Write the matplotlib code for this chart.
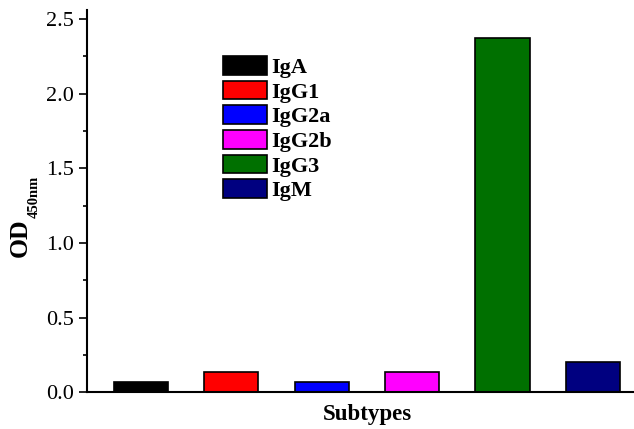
import matplotlib
matplotlib.use("Agg")
import matplotlib.pyplot as plt
from matplotlib.ticker import MultipleLocator, FormatStrFormatter

# subtype data
subtypes = ["IgA", "IgG1", "IgG2a", "IgG2b", "IgG3", "IgM"]
od450 = [0.067, 0.138, 0.067, 0.138, 2.375, 0.205]
colors = ["#000000", "#FF0000", "#0000FF", "#FF00FF", "#007000", "#000080"]

plt.rcParams['font.family'] = ['Liberation Serif', 'DejaVu Serif']

W, H = 634, 429
fig = plt.figure(figsize=(W / 100, H / 100), dpi=100)

# axes in pixel terms: left 86.7, bottom 392.3, top 9.5, right runs past the image edge
left, right, top, bottom = 86.7, 647.2, 9.5, 392.3
ax = fig.add_axes([left / W, 1 - bottom / H, (right - left) / W, (bottom - top) / H])

xpos = list(range(1, len(subtypes) + 1))
bars = ax.bar(xpos, od450, width=0.6, color=colors, edgecolor="black", linewidth=1.2)

ax.set_xlim(0.4, 6.6)
ax.set_ylim(0, 2.564)
ax.yaxis.set_major_locator(MultipleLocator(0.5))
ax.yaxis.set_minor_locator(MultipleLocator(0.25))
ax.yaxis.set_major_formatter(FormatStrFormatter('%.1f'))
ax.tick_params(axis='y', which='major', direction='out', length=6, width=1.2,
               labelsize=16, pad=3)
ax.tick_params(axis='y', which='minor', direction='out', length=3, width=1.2)
ax.tick_params(axis='x', which='both', bottom=False, labelbottom=False)

for s in ['top', 'right']:
    ax.spines[s].set_visible(False)
for s in ['left', 'bottom']:
    ax.spines[s].set_linewidth(1.5)

ax.set_xlabel("Subtypes", fontsize=16.5, fontweight='bold')
ax.xaxis.label.set_verticalalignment('center')
ax.xaxis.set_label_coords(0.5, -(414.5 - bottom) / (bottom - top))

# y label: OD with subscript 450nm
fig.text(20 / W, 1 - 237.5 / H, "OD", rotation=90, fontsize=18.5, fontweight='bold',
         ha='center', va='center')
fig.text(34 / W, 1 - 196.5 / H, "450nm", rotation=90, fontsize=10.5, fontweight='bold',
         ha='center', va='center')

leg = ax.legend(handles=list(bars), labels=subtypes, loc='upper left',
                bbox_to_anchor=(223.3 / W, 1 - 56 / H), bbox_transform=fig.transFigure,
                frameon=False, borderpad=0, borderaxespad=0,
                handlelength=1.98, handleheight=0.92, handletextpad=0.2,
                labelspacing=0.12, prop={'size': 16, 'weight': 'bold'})

fig.savefig("out.png", dpi=100)
